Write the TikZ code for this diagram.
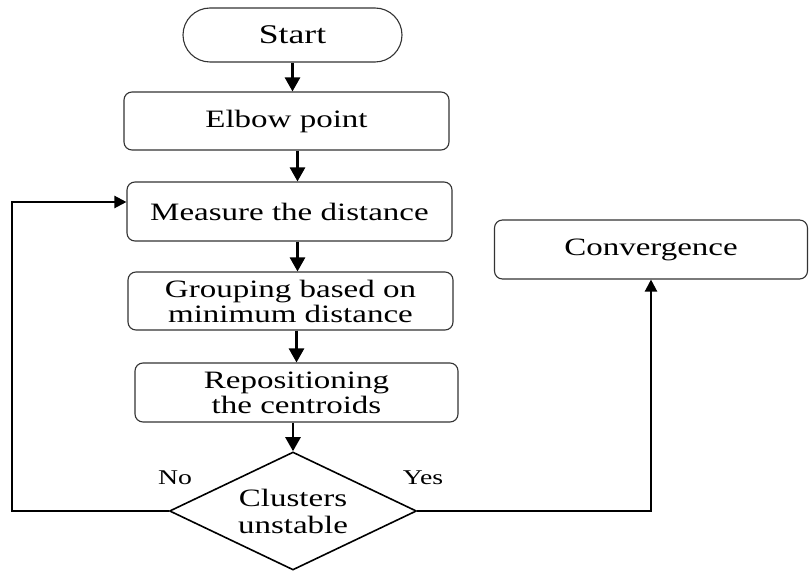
\documentclass[tikz,border=0pt]{standalone}
\usepackage{fontspec}
\setmainfont[FakeStretch=1.32]{Liberation Serif}
\usetikzlibrary{shapes.misc,shapes.geometric,arrows.meta}

\begin{document}
\begin{tikzpicture}[x=1pt,y=-1pt,
  txt/.style={font=\fontsize{25}{25}\selectfont, align=center, inner sep=0pt},
  box/.style={txt, draw=black!80, line width=1.1pt, rounded corners=8pt,
    minimum width=325pt, minimum height=58pt},
  terminal/.style={txt, font=\fontsize{27}{27}\selectfont, rounded rectangle,
    draw=black!80, line width=1.1pt, minimum width=219pt, minimum height=54pt},
  decision/.style={txt, diamond, aspect=2.09, draw=black, line width=1.6pt,
    minimum width=247pt, minimum height=118pt},
  label/.style={font=\fontsize{21}{21}\selectfont, inner sep=0pt},
  flow/.style={line width=2.6pt, -{Triangle[length=14pt,width=15pt]}},
  loop/.style={line width=2.2pt, -{Triangle[length=12pt,width=12pt]}}
]
\useasboundingbox (0,0) rectangle (809,572);

\node[terminal] (start) at (292.5,35) {Start};
\node[box] (elbow) at (286.5,121) {Elbow point};
\node[box, minimum height=59pt] (measure) at (289.5,211.5) {Measure the distance};
\node[box] (group) at (290.5,301) {Grouping based on\\minimum distance};
\node[box, minimum width=323pt, minimum height=59pt] (repos) at (296.5,392.5) {Repositioning\\the centroids};
\node[decision] (dia) at (293,511) {Clusters\\[2pt]unstable};
\node[box, minimum width=313pt, minimum height=59pt] (conv) at (651,249.5) {Convergence};

\node[label] (no) at (175,478) {No};
\node[label] (yes) at (423,478) {Yes};

% main sequence
\draw[flow] (start.south) -- (start.south |- elbow.north);
\draw[flow] (elbow.south -| start.south) ++(5,0) coordinate (e1) -- (e1 |- measure.north);
\draw[flow] (measure.south -| e1) -- (e1 |- group.north);
\draw[flow] (group.south -| e1) ++(-1,0) coordinate (g1) -- (g1 |- repos.north);
\draw[flow] (repos.south -| dia.north) -- (dia.north);

% feedback loop and exit
\coordinate (back) at (12,202);
\draw[loop] (dia.west) -| (back) -- (back -| measure.west);
\draw[loop] (dia.east) -| (conv.south);
\end{tikzpicture}
\end{document}
